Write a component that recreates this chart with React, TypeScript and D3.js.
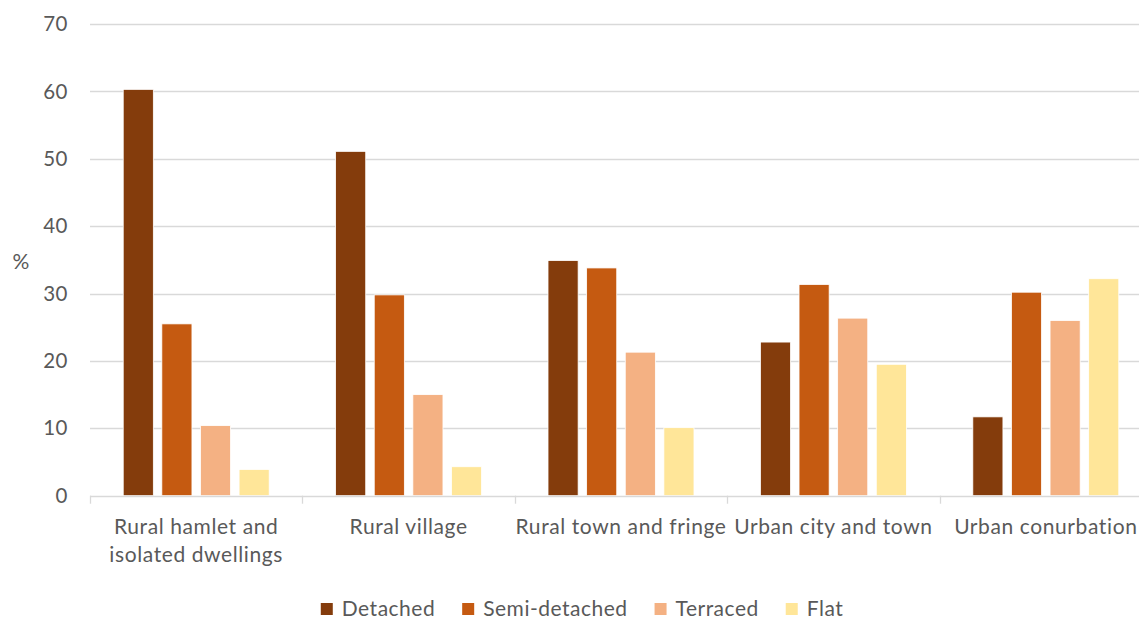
import React, { useEffect, useRef } from "react";
import * as d3 from "d3";

const categories = [
  ["Rural hamlet and", "isolated dwellings"],
  ["Rural village"],
  ["Rural town and fringe"],
  ["Urban city and town"],
  ["Urban conurbation"],
];
const seriesNames = ["Detached", "Semi-detached", "Terraced", "Flat"];
const seriesColors = ["#843C0C", "#C55A11", "#F4B183", "#FFE699"];
const detached = [60.3, 51.1, 34.9, 22.8, 11.7];
const semiDetached = [25.5, 29.8, 33.8, 31.35, 30.2];
const terraced = [10.4, 15.0, 21.3, 26.35, 26.0];
const flat = [3.9, 4.3, 10.1, 19.5, 32.2];
const yTicks = [0, 10, 20, 30, 40, 50, 60, 70];

const W = 1139;
const H = 619;
const FONT = "Lato, 'Open Sans', sans-serif";
const TEXT = "#595959";
const GRID = "#D9D9D9";

export default function App() {
  const ref = useRef<SVGSVGElement | null>(null);

  useEffect(() => {
    const svg = d3.select(ref.current);
    svg.selectAll("*").remove();

    const values = [detached, semiDetached, terraced, flat];
    const catKeys = categories.map((c) => c.join(" "));

    const x0 = d3.scaleBand<string>().domain(catKeys).range([90, 1152]).padding(0);
    const x1 = d3
      .scaleBand<string>()
      .domain(seriesNames)
      .range([0, x0.bandwidth()])
      .paddingInner(0.22)
      .paddingOuter(0.86);
    const y = d3.scaleLinear().domain([0, 70]).range([495.7, 24]);

    // gridlines
    svg
      .append("g")
      .selectAll("line")
      .data(yTicks.slice(1))
      .join("line")
      .attr("x1", 90)
      .attr("x2", W)
      .attr("y1", (d) => Math.round(y(d)) + 0.5)
      .attr("y2", (d) => Math.round(y(d)) + 0.5)
      .attr("stroke", GRID)
      .attr("stroke-width", 1.3);

    // y labels
    svg
      .append("g")
      .selectAll("text")
      .data(yTicks)
      .join("text")
      .attr("x", 68)
      .attr("y", (d) => y(d))
      .attr("dy", "0.35em")
      .attr("text-anchor", "end")
      .attr("font-family", FONT)
      .attr("font-size", 20.5)
      .attr("letter-spacing", 0.5)
      .attr("fill", TEXT)
      .text((d) => d);

    svg
      .append("text")
      .attr("x", 21)
      .attr("y", 262)
      .attr("dy", "0.35em")
      .attr("text-anchor", "middle")
      .attr("font-family", FONT)
      .attr("font-size", 21)
      .attr("fill", TEXT)
      .text("%");

    // bars
    const g = svg.append("g");
    seriesNames.forEach((s, si) => {
      g.append("g")
        .selectAll("rect")
        .data(values[si])
        .join("rect")
        .attr("x", (_d, i) => (x0(catKeys[i]) as number) + (x1(s) as number))
        .attr("width", x1.bandwidth())
        .attr("y", (d) => y(d))
        .attr("height", (d) => y(0) - y(d))
        .attr("fill", seriesColors[si])
        .attr("stroke", "#ffffff")
        .attr("stroke-width", 0.8);
    });

    // x axis line
    svg
      .append("line")
      .attr("x1", 90)
      .attr("x2", W)
      .attr("y1", Math.round(y(0)) + 0.5)
      .attr("y2", Math.round(y(0)) + 0.5)
      .attr("stroke", GRID)
      .attr("stroke-width", 1.3);

    // tick marks at category boundaries
    const boundaries = catKeys.map((k) => x0(k) as number).concat([x0.range()[1]]);
    svg
      .append("g")
      .selectAll("line")
      .data(boundaries)
      .join("line")
      .attr("x1", (d) => Math.round(d) + 0.5)
      .attr("x2", (d) => Math.round(d) + 0.5)
      .attr("y1", y(0))
      .attr("y2", y(0) + 8)
      .attr("stroke", GRID)
      .attr("stroke-width", 1.3);

    // x labels
    const xl = svg.append("g");
    categories.forEach((lines, i) => {
      const cx = (x0(catKeys[i]) as number) + x0.bandwidth() / 2;
      lines.forEach((ln, li) => {
        xl.append("text")
          .attr("x", cx)
          .attr("y", 534 + li * 28)
          .attr("text-anchor", "middle")
          .attr("font-family", FONT)
          .attr("font-size", 21)
          .attr("letter-spacing", 0.6)
          .attr("fill", TEXT)
          .text(ln);
      });
    });

    // legend
    const leg = svg.append("g");
    const items = seriesNames.map((s, i) => {
      const it = leg.append("g");
      it.append("rect")
        .attr("x", 0)
        .attr("y", 603)
        .attr("width", 12)
        .attr("height", 12)
        .attr("fill", seriesColors[i]);
      const t = it
        .append("text")
        .attr("x", 21)
        .attr("y", 616)
        .attr("font-family", FONT)
        .attr("font-size", 21)
        .attr("letter-spacing", 0.5)
        .attr("fill", TEXT)
        .text(s);
      const w = (t.node() as SVGTextElement).getComputedTextLength();
      return { it, w: 21 + w };
    });
    const gap = 27;
    const total = items.reduce((a, b) => a + b.w, 0) + gap * (items.length - 1);
    let cur = 582 - total / 2;
    items.forEach(({ it, w }) => {
      it.attr("transform", `translate(${cur},0)`);
      cur += w + gap;
    });
  }, []);

  return (
    <svg
      ref={ref}
      width={W}
      height={H}
      style={{ position: "absolute", left: 0, top: 0, background: "#fff" }}
    />
  );
}
